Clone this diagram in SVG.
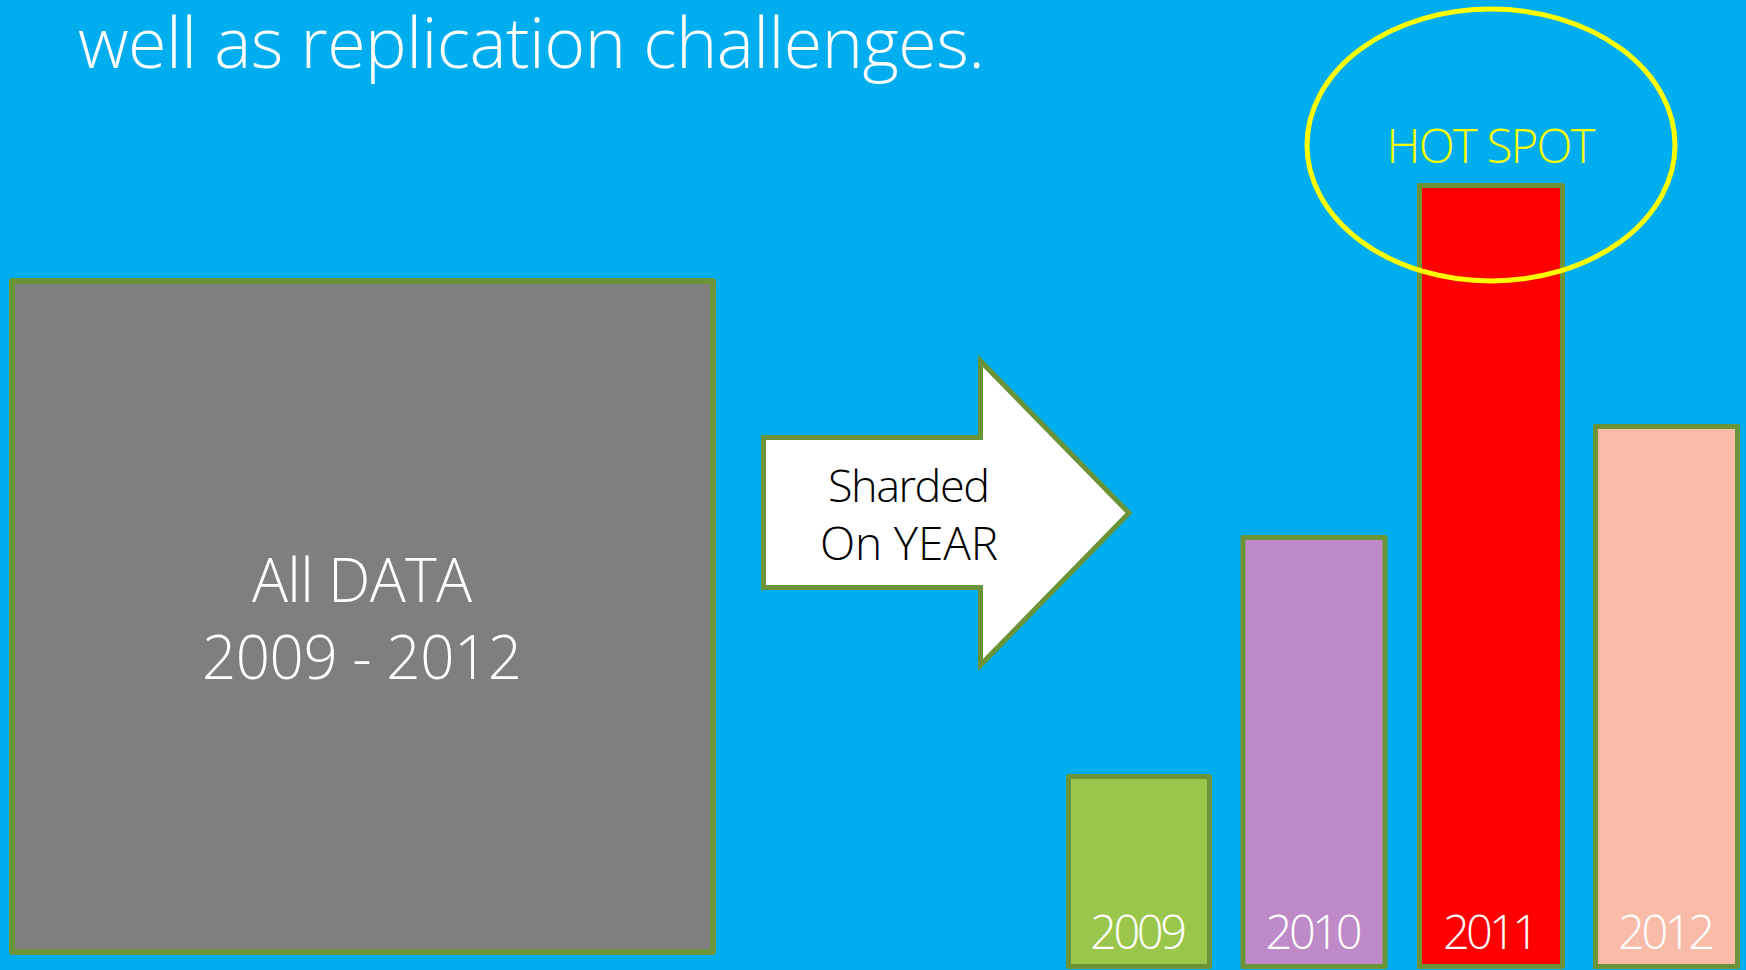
<svg xmlns="http://www.w3.org/2000/svg" width="1746" height="970" viewBox="0 0 1746 970">
  <style>
    .light { font-family: "Open Sans", "Noto Sans", "Liberation Sans", sans-serif; font-weight: 300; }
    .bar { stroke: #6B9337; stroke-width: 5; stroke-linejoin: round; }
    .year { font-size: 47px; fill: #FFFFFF; text-anchor: middle; }
  </style>
  <rect x="0" y="0" width="1746" height="970" fill="#00AEEF"/>

  <text class="light" x="78" y="68" font-size="70" fill="#FFFFFF" textLength="907" lengthAdjust="spacing">well as replication challenges.</text>

  <g id="all-data">
    <rect x="12" y="281" width="701" height="671" fill="#7F7F7F" stroke="#6B9337" stroke-width="6" stroke-linejoin="round"/>
    <text class="light" x="362" y="602" font-size="60" fill="#FFFFFF" text-anchor="middle" textLength="220" lengthAdjust="spacing">All DATA</text>
    <text class="light" x="362" y="679" font-size="60" fill="#FFFFFF" text-anchor="middle" textLength="320" lengthAdjust="spacing">2009 - 2012</text>
  </g>

  <g id="connectors">
    <g id="sharded-arrow">
      <polygon points="763.5,437.5 980.5,437.5 980.5,361 1129,513 980.5,665 980.5,587.5 763.5,587.5" fill="#FFFFFF" stroke="#6B9337" stroke-width="5"/>
      <text class="light" x="909" y="502" font-size="45" fill="#000000" text-anchor="middle" textLength="162" lengthAdjust="spacing">Sharded</text>
      <text class="light" x="909" y="560" font-size="46" fill="#000000" text-anchor="middle" textLength="178" lengthAdjust="spacing">On YEAR</text>
    </g>
  </g>

  <g id="shard-2009">
    <rect class="bar" x="1068.5" y="776.5" width="141" height="190" fill="#9AC74B"/>
    <text class="light year" x="1138.5" y="949" textLength="97" lengthAdjust="spacing">2009</text>
  </g>
  <g id="shard-2010">
    <rect class="bar" x="1243" y="537.5" width="142" height="429" fill="#BE8BC8"/>
    <text class="light year" x="1314" y="949" textLength="97" lengthAdjust="spacing">2010</text>
  </g>
  <g id="shard-2011">
    <rect class="bar" x="1419.5" y="185.5" width="143" height="781" fill="#FF0000"/>
    <text class="light year" x="1491" y="949" textLength="96" lengthAdjust="spacing">2011</text>
  </g>
  <g id="shard-2012">
    <rect class="bar" x="1595.5" y="426.5" width="142" height="540" fill="#F8BBA8"/>
    <text class="light year" x="1666.5" y="949" textLength="97" lengthAdjust="spacing">2012</text>
  </g>

  <g id="hot-spot">
    <ellipse cx="1491" cy="145" rx="184" ry="136" fill="none" stroke="#FFFF00" stroke-width="5"/>
    <text class="light" x="1491" y="163" font-size="47" fill="#FFFF00" text-anchor="middle" textLength="209" lengthAdjust="spacing">HOT SPOT</text>
  </g>
</svg>
